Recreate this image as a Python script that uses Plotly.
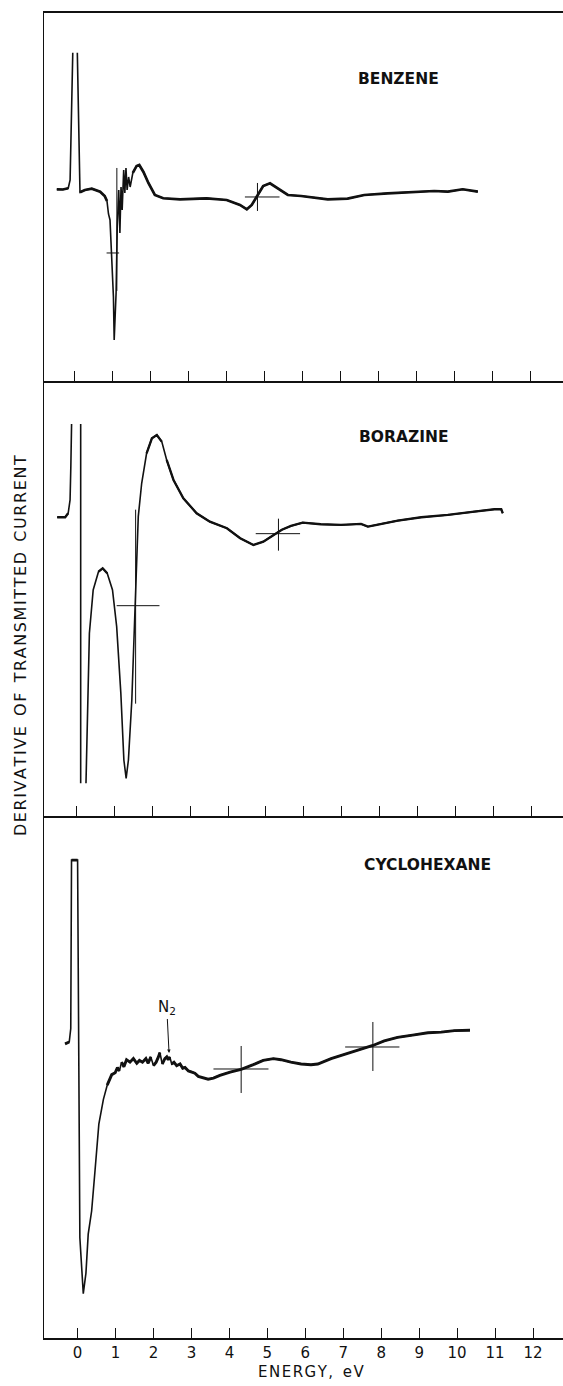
import plotly.graph_objects as go

# ---------------- data (energy in eV, derivative signal in arbitrary units) ----------------
benzene_E = [-0.46, -0.30, -0.16, -0.11, -0.04, None, 0.08, 0.15, 0.28, 0.46, 0.68, 0.80, 0.86,
             0.90, 0.94, 0.98, 1.03, 1.05, 1.10, 1.13, 1.17, 1.20, 1.23, 1.26, 1.30, 1.33, 1.36,
             1.39, 1.43, 1.47, 1.54, 1.64, 1.71, 1.82, 1.95, 2.12, 2.34, 2.78, 3.48, 4.01, 4.36,
             4.54, 4.67, 4.80, 4.97, 5.15, 5.44, 5.62, 5.97, 6.67, 7.19, 7.63, 8.25, 8.95, 9.47,
             9.83, 10.22, 10.62]
benzene_v = [191.7, 191.5, 192.7, 201, 328.3, None, 328.3, 188.7, 191, 192.3, 189.3, 185, 180,
             167, 161, 128, 84, 41, 88, 154, 191, 148, 194, 171, 211, 188, 213,
             191, 204, 194, 208, 215, 216, 209, 198, 186, 182.7, 181.7, 182.7, 181, 176,
             171.7, 176, 183.7, 195, 197.7, 191, 186, 185, 181.7, 182.3, 186, 187.7, 189.3, 190,
             189.3, 191.7, 189.3]

borazine_E = [-0.51, -0.30, -0.22, -0.17, -0.15, -0.13, None, 0.11, 0.11, None, 0.25, 0.29, 0.34,
              0.44, 0.58, 0.69, 0.81, 0.95, 1.06, 1.17, 1.25, 1.31, 1.37, 1.46, 1.55, 1.63, 1.72,
              1.85, 1.99, 2.12, 2.25, 2.38, 2.56, 2.82, 3.17, 3.52, 3.97, 4.32, 4.67, 4.93, 5.20,
              5.42, 5.66, 5.97, 6.45, 6.98, 7.51, 7.69, 7.86, 8.48, 9.10, 9.80, 10.50, 11.03,
              11.21, 11.25]
borazine_v = [298.4, 298.4, 302.4, 315.7, 349, 391.7, None, 391.7, 32.4, None, 32.4, 99, 182.4,
              225.7, 244, 247.4, 242.4, 225.7, 189, 122.4, 55.7, 37.4, 55.7, 115.7, 209, 299, 332.4,
              362.4, 377.4, 380.7, 374, 355.7, 335.7, 317.4, 302.4, 294, 287.4, 277.4, 270.7, 274, 280.7,
              286, 289.7, 293, 291.4, 290.7, 291.7, 289, 290.4, 295, 298.4, 300.7, 304, 306.4,
              306.4, 302.4]

cyclohexane_E = [-0.33, -0.22, -0.18, -0.16, 0.00, 0.06, 0.15, 0.22, 0.28, 0.37, 0.46, 0.56, 0.68,
                 0.78, 0.90, 0.99, 1.05, 1.10, 1.16, 1.22, 1.29, 1.38, 1.47, 1.56, 1.63, 1.71, 1.80,
                 1.86, 1.93, 2.00, 2.07, 2.13, 2.17, 2.23, 2.30, 2.35, 2.39, 2.43, 2.48, 2.54, 2.61,
                 2.70, 2.77, 2.83, 2.92, 3.01, 3.09, 3.18, 3.31, 3.44, 3.58, 3.75, 4.02, 4.31, 4.63,
                 4.89, 5.16, 5.36, 5.62, 5.89, 6.15, 6.33, 6.68, 7.12, 7.47, 7.78, 8.08, 8.43, 8.87,
                 9.23, 9.58, 9.93, 10.34]
cyclohexane_v = [294.2, 296, 309.5, 477.9, 477.9, 100.3, 44.3, 64.9, 103.9, 127, 167.7, 213.8, 238.6,
                 252.8, 263.4, 265.2, 270.5, 267, 275.8, 271.2, 278.3, 275.8, 279.4, 274.7, 277.6, 275.8, 279.4,
                 274.7, 281.1, 272.3, 275.8, 281.1, 285.4, 274, 279.4, 281.1, 278.3, 281.1, 274, 275.8, 272.3,
                 274, 269.8, 270.5, 267, 266.2, 264.8, 261.6, 259.9, 258.8, 259.9, 262.7, 265.9, 268.7, 273.3,
                 277.6, 279.4, 278.3, 275.8, 274, 273.3, 274, 279.4, 284.7, 288.9, 292.5, 297.1, 300.6, 303.1,
                 305.2, 305.9, 307.4, 307.7]

# crossing-point markers: vertical stroke at energy E spanning [v_lo, v_hi];
# horizontal stroke at level v spanning [E_lo, E_hi]
benzene_cross = dict(E=[1.12, 4.82], v_lo=[90, 170], v_hi=[213, 198],
                     v=[128, 184], E_lo=[0.85, 4.49], E_hi=[1.18, 5.40])
borazine_cross = dict(E=[1.56, 5.33], v_lo=[112, 265], v_hi=[306, 297],
                      v=[210, 282], E_lo=[1.06, 4.73], E_hi=[2.19, 5.90])
cyclohexane_cross = dict(E=[4.31, 7.78], v_lo=[245, 267], v_hi=[292, 316],
                         v=[269, 291], E_lo=[3.58, 7.05], E_hi=[5.03, 8.48])

tick_vals = list(range(0, 13))
tick_text = [str(t) for t in tick_vals]

panel_names = ["BENZENE", "BORAZINE", "CYCLOHEXANE"]


def spaced(s):
    # hair spaces between letters, two no-break spaces between words
    words = s.split(" ")
    return "\u00a0\u00a0".join("\u200a".join(w) for w in words)


y_title = spaced("DERIVATIVE OF TRANSMITTED CURRENT")
x_title = "E\u200aN\u200aE\u200aR\u200aG\u200aY\u200a,\u00a0\u00a0e\u200aV"

# ---------------- figure ----------------
INK = "#111111"
FONT = "DejaVu Sans"
PX_PER_EV = 38.0  # horizontal scale of the panels, used to judge pen speed


def cross_xy(c):
    xs, ys = [], []
    for i in range(len(c["E"])):
        xs += [c["E_lo"][i], c["E_hi"][i], None, c["E"][i], c["E"][i], None]
        ys += [c["v"][i], c["v"][i], None, c["v_lo"][i], c["v_hi"][i], None]
    return xs, ys


def slow_segments(E, v, thr=3.0):
    """Keep only the segments where the recorder pen moved slowly (heavier ink)."""
    xs, ys = [], []
    last = None
    for i in range(len(E) - 1):
        if E[i] is None or E[i + 1] is None:
            continue
        dx = abs(E[i + 1] - E[i]) * PX_PER_EV
        dy = abs(v[i + 1] - v[i])
        if dy <= thr * max(dx, 1e-6):
            if last != i:
                if xs:
                    xs.append(None)
                    ys.append(None)
                xs.append(E[i])
                ys.append(v[i])
            xs.append(E[i + 1])
            ys.append(v[i + 1])
            last = i + 1
    return xs, ys


fig = go.Figure()
series = [
    (benzene_E, benzene_v, benzene_cross, "x", "y", 2.7),
    (borazine_E, borazine_v, borazine_cross, "x2", "y2", 2.3),
    (cyclohexane_E, cyclohexane_v, cyclohexane_cross, "x3", "y3", 2.9),
]
for E, v, c, xa, ya, w in series:
    fig.add_trace(go.Scatter(x=E, y=v, mode="lines", xaxis=xa, yaxis=ya,
                             line=dict(color=INK, width=1.6), connectgaps=False,
                             hoverinfo="skip"))
    sx, sy = slow_segments(E, v)
    fig.add_trace(go.Scatter(x=sx, y=sy, mode="lines", xaxis=xa, yaxis=ya,
                             line=dict(color=INK, width=w), connectgaps=False,
                             hoverinfo="skip"))
    cx, cy = cross_xy(c)
    fig.add_trace(go.Scatter(x=cx, y=cy, mode="lines", xaxis=xa, yaxis=ya,
                             line=dict(color=INK, width=1), connectgaps=False,
                             hoverinfo="skip"))

xaxis_common = dict(showgrid=False, zeroline=False, showline=True, linecolor=INK, linewidth=1.5,
                    ticks="inside", ticklen=10, tickwidth=1, tickcolor=INK,
                    tickvals=tick_vals, ticktext=tick_text)
yaxis_common = dict(showgrid=False, zeroline=False, showline=True, linecolor=INK, linewidth=1.3,
                    showticklabels=False, ticks="")

fig.update_layout(
    width=563, height=1386,
    margin=dict(l=44, r=0, t=13, b=48),
    paper_bgcolor="white", plot_bgcolor="white",
    showlegend=False,
    font=dict(family=FONT, color=INK, size=14),
    xaxis=dict(xaxis_common, range=[-0.797, 12.86], anchor="y", mirror=True, showticklabels=False),
    yaxis=dict(yaxis_common, domain=[0.7223, 1.0], range=[0, 368], anchor="x"),
    xaxis2=dict(xaxis_common, range=[-0.858, 12.84], anchor="y2", showticklabels=False),
    yaxis2=dict(yaxis_common, domain=[0.3942, 0.7223], range=[0, 434.7], anchor="x2"),
    xaxis3=dict(xaxis_common, range=[-0.885, 12.79], anchor="y3", showticklabels=True,
                tickfont=dict(size=15, family=FONT, color=INK)),
    yaxis3=dict(yaxis_common, domain=[0.0, 0.3942], range=[0, 522.3], anchor="x3"),
)

label_font = dict(family=FONT, size=15.5, color=INK, weight="bold")
annotations = [
    dict(text=panel_names[0], x=8.54, y=301.7, xref="x", yref="y", showarrow=False,
         font=label_font, xanchor="center", yanchor="middle"),
    dict(text=panel_names[1], x=8.65, y=379, xref="x2", yref="y2", showarrow=False,
         font=label_font, xanchor="center", yanchor="middle"),
    dict(text=panel_names[2], x=9.23, y=472.6, xref="x3", yref="y3", showarrow=False,
         font=label_font, xanchor="center", yanchor="middle"),
    dict(text="N<sub>2</sub>", x=2.41, y=285, ax=2.35, ay=330, xref="x3", yref="y3",
         axref="x3", ayref="y3", showarrow=True, arrowhead=2, arrowsize=0.7, arrowwidth=1,
         arrowcolor=INK, standoff=0, font=dict(family=FONT, size=15, color=INK)),
    dict(text=y_title, x=-0.044, y=0.5223, xref="paper", yref="paper", showarrow=False,
         textangle=-90, font=dict(family=FONT, size=16, color=INK),
         xanchor="center", yanchor="middle"),
    dict(text=x_title, x=0.5135, y=-0.0257, xref="paper", yref="paper", showarrow=False,
         font=dict(family=FONT, size=15, color=INK), xanchor="center", yanchor="middle"),
]
fig.update_layout(annotations=annotations)

# remove the default 8 px page margin so the 563x1386 figure fills the window exactly
fig.write_html("out.html",
               config={"displayModeBar": False},
               post_script="document.body.style.margin='0';document.body.style.overflow='hidden';")
